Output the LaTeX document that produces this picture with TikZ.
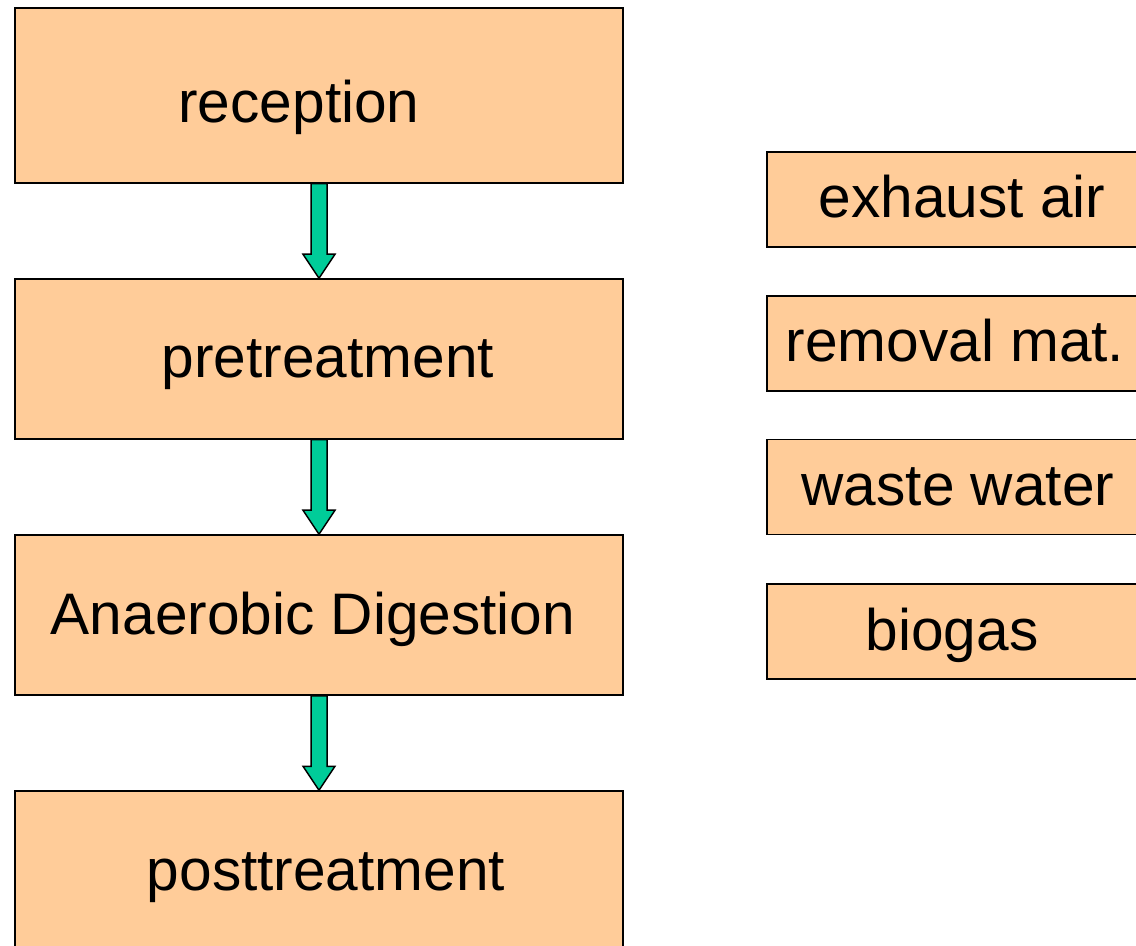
\documentclass[tikz,border=0pt]{standalone}
\usepackage{fontspec}
\setmainfont{Liberation Sans}
\usetikzlibrary{calc}
\definecolor{peach}{HTML}{FFCC99}
\definecolor{flowgreen}{HTML}{00CC99}
\newcommand\flowarrow[2]{%
  \filldraw[arr] ($(#1.south)+(-8,0)$) -- ($(#2.north)+(-8,-24)$) -- ($(#2.north)+(-16,-24)$)
    -- (#2.north) -- ($(#2.north)+(16,-24)$) -- ($(#2.north)+(8,-24)$) -- ($(#1.south)+(8,0)$) -- cycle;}
\begin{document}
\begin{tikzpicture}[x=0.5pt,y=-0.5pt,
  box/.style={draw=black,fill=peach,line width=0.75pt,inner sep=0pt,minimum width=304pt,minimum height=80pt},
  sidebox/.style={draw=black,fill=peach,line width=0.75pt,inner sep=0pt,minimum width=189pt,minimum height=47.5pt},
  lbl/.style={anchor=base,inner sep=0pt,font=\fontsize{29.3}{34}\selectfont},
  arr/.style={draw=black,fill=flowgreen,line width=0.75pt,line join=miter}]
\useasboundingbox (0,0) rectangle (1136,946);
\clip (0,0) rectangle (1136,946);
% left column boxes
\node[box,minimum height=87.5pt] (rec) at (319,95.5) {};
\node[box] (pre) at (319,359) {};
\node[box] (ad) at (319,615) {};
\node[box] (post) at (319,871) {};
% arrows
\flowarrow{rec}{pre}
\flowarrow{pre}{ad}
\flowarrow{ad}{post}
% left labels
\node[lbl] (trec) at (299,123) {reception};
\node[lbl] (tpre) at (328,378) {pretreatment};
\node[lbl] (tad) at (313,634) {Anaerobic Digestion};
\node[lbl] (tpost) at (326,890) {posttreatment};
% right column boxes
\node[sidebox] (exh) at (956,199.5) {};
\node[sidebox] (rem) at (956,343.5) {};
\node[sidebox] (ww) at (956,487) {};
\node[sidebox] (bio) at (956,631.5) {};
\node[lbl] (texh) at (962,218) {exhaust air};
\node[lbl] (trem) at (955,362) {removal mat.};
\node[lbl] (tww) at (958,506) {waste water};
\node[lbl] (tbio) at (952,650) {biogas};
\end{tikzpicture}
\end{document}
